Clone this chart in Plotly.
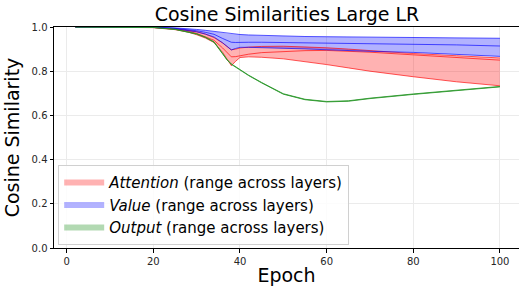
import plotly.graph_objects as go

epochs = [2, 10, 20, 25, 28, 30, 32, 34, 36, 37, 38, 39, 40, 42, 45, 50, 55, 60, 65, 70, 80, 90, 100]

# Attention (per-layer curves)
att_top = [1.0, 1.0, 0.998, 0.993, 0.986, 0.979, 0.968, 0.952, 0.928, 0.912, 0.897, 0.900, 0.905, 0.909, 0.912, 0.913, 0.911, 0.906, 0.900, 0.893, 0.880, 0.870, 0.860]
att_mid = [1.0, 1.0, 0.998, 0.990, 0.981, 0.971, 0.957, 0.940, 0.905, 0.885, 0.865, 0.866, 0.870, 0.877, 0.884, 0.890, 0.893, 0.894, 0.890, 0.886, 0.874, 0.862, 0.850]
att_bot = [1.0, 1.0, 0.997, 0.988, 0.977, 0.965, 0.950, 0.930, 0.885, 0.855, 0.825, 0.845, 0.862, 0.865, 0.863, 0.856, 0.844, 0.830, 0.815, 0.800, 0.775, 0.752, 0.734]

# Value (per-layer curves)
val_top = [1.0, 1.0, 0.999, 0.996, 0.993, 0.989, 0.985, 0.980, 0.974, 0.971, 0.968, 0.967, 0.966, 0.964, 0.962, 0.959, 0.957, 0.956, 0.955, 0.954, 0.952, 0.950, 0.949]
val_mid = [1.0, 1.0, 0.999, 0.994, 0.989, 0.983, 0.976, 0.967, 0.948, 0.938, 0.931, 0.930, 0.931, 0.931, 0.931, 0.930, 0.929, 0.928, 0.927, 0.926, 0.923, 0.919, 0.914]
val_bot = [1.0, 1.0, 0.998, 0.992, 0.985, 0.978, 0.968, 0.955, 0.928, 0.911, 0.896, 0.903, 0.908, 0.908, 0.907, 0.905, 0.901, 0.897, 0.893, 0.890, 0.885, 0.876, 0.867]

# Output (per-layer curves, nearly identical)
out_top = [1.0, 1.0, 0.998, 0.990, 0.979, 0.969, 0.954, 0.933, 0.880, 0.853, 0.833, 0.820, 0.805, 0.782, 0.749, 0.698, 0.673, 0.663, 0.666, 0.678, 0.697, 0.713, 0.731]
out_bot = [1.0, 1.0, 0.998, 0.989, 0.978, 0.968, 0.953, 0.931, 0.878, 0.851, 0.831, 0.818, 0.803, 0.780, 0.747, 0.696, 0.671, 0.661, 0.664, 0.676, 0.695, 0.711, 0.729]

x_ticks = [0, 20, 40, 60, 80, 100]
y_ticks = [0.0, 0.2, 0.4, 0.6, 0.8, 1.0]
y_tick_labels = ["0.0", "0.2", "0.4", "0.6", "0.8", "1.0"]

groups = [
    ("<i>Attention</i> (range across layers)", [att_top, att_mid, att_bot],
     "rgba(255,0,0,0.3)", "rgba(255,0,0,0.65)"),
    ("<i>Value</i> (range across layers)", [val_top, val_mid, val_bot],
     "rgba(0,0,255,0.3)", "rgba(0,0,255,0.65)"),
    ("<i>Output</i> (range across layers)", [out_top, out_bot],
     "rgba(0,128,0,0.3)", "rgba(40,150,40,0.85)"),
]

fig = go.Figure()
for name, layers, fillc, linec in groups:
    lo = [min(v) for v in zip(*layers)]
    hi = [max(v) for v in zip(*layers)]
    fig.add_trace(go.Scatter(x=epochs, y=lo, mode="lines", line=dict(width=0),
                             showlegend=False, hoverinfo="skip"))
    fig.add_trace(go.Scatter(x=epochs, y=hi, mode="none", fill="tonexty",
                             fillcolor=fillc, name=name, showlegend=True))
for name, layers, fillc, linec in groups:
    for ys in layers:
        fig.add_trace(go.Scatter(x=epochs, y=ys, mode="lines",
                                 line=dict(color=linec, width=1),
                                 showlegend=False))

fig.update_layout(
    width=519, height=287,
    margin=dict(l=54, r=0, t=27, b=39),
    paper_bgcolor="white", plot_bgcolor="white",
    font=dict(family="DejaVu Sans", color="#262626"),
    title=dict(text="Cosine Similarities Large LR", x=0.553, xanchor="center",
               y=0.95, yanchor="middle", yref="container",
               font=dict(size=19, color="black")),
    legend=dict(x=0.009, y=0.012, xanchor="left", yanchor="bottom",
                bgcolor="rgba(255,255,255,0.85)", bordercolor="#d0d0d0",
                borderwidth=1, font=dict(size=15, color="black"),
                tracegroupgap=0, itemwidth=40, traceorder="normal"),
)
fig.update_xaxes(range=[-2.93, 104.4], tickvals=x_ticks, showgrid=True,
                 gridcolor="#ebebeb", gridwidth=1, zeroline=False,
                 showline=True, linecolor="black", linewidth=1, mirror=True,
                 ticks="outside", ticklen=3.5, tickcolor="black",
                 tickfont=dict(size=10),
                 title=dict(text="Epoch", font=dict(size=19, color="black"), standoff=3))
fig.update_yaxes(range=[0, 1.0], tickvals=y_ticks, ticktext=y_tick_labels,
                 showgrid=True, gridcolor="#ebebeb", gridwidth=1, zeroline=False,
                 showline=True, linecolor="black", linewidth=1,
                 ticks="outside", ticklen=3.5, tickcolor="black",
                 tickfont=dict(size=10),
                 title=dict(text="Cosine Similarity", font=dict(size=19, color="black"), standoff=6))

fig.write_html("out.html", config={"displayModeBar": False},
               post_script="document.body.style.margin='0';document.body.style.overflow='hidden';")
